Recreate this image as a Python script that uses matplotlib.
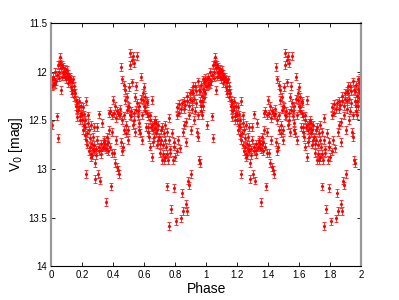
import numpy as np
import matplotlib
matplotlib.use("Agg")
import matplotlib.pyplot as plt

# Curva de luz plegada en fase (un ciclo, se repite de 1 a 2)
fase = [
    0.005, 0.009, 0.012, 0.015, 0.022, 0.026, 0.030, 0.037, 0.040, 0.043,
    0.046, 0.050, 0.055, 0.058, 0.062, 0.066, 0.070, 0.075, 0.080, 0.085,
    0.090, 0.095, 0.100,
    0.104, 0.108, 0.112, 0.116, 0.120, 0.124, 0.128, 0.132, 0.136, 0.140,
    0.145, 0.150, 0.155, 0.160, 0.165, 0.170, 0.175, 0.180, 0.185, 0.190,
    0.195, 0.200,
    0.205, 0.210, 0.213, 0.217, 0.220, 0.223, 0.226, 0.228, 0.232, 0.236,
    0.240, 0.245, 0.250, 0.255, 0.258, 0.262, 0.266, 0.270, 0.274, 0.278,
    0.282, 0.286, 0.290, 0.294, 0.298,
    0.302, 0.306, 0.310, 0.315, 0.320, 0.325, 0.330, 0.335, 0.340, 0.345,
    0.350, 0.355, 0.360, 0.365, 0.370, 0.375, 0.380, 0.385, 0.390, 0.395,
    0.400,
    0.404, 0.408, 0.412, 0.416, 0.420, 0.424, 0.428, 0.432, 0.436, 0.440,
    0.444, 0.448, 0.452, 0.456, 0.460, 0.464, 0.468, 0.472, 0.476, 0.480,
    0.484, 0.488, 0.492, 0.496, 0.500,
    0.504, 0.508, 0.512, 0.516, 0.520, 0.524, 0.528, 0.532, 0.536, 0.540,
    0.544, 0.548, 0.552, 0.556, 0.560, 0.565, 0.570, 0.575, 0.580, 0.585,
    0.590, 0.595,
    0.600, 0.604, 0.608, 0.612, 0.616, 0.620, 0.624, 0.628, 0.632, 0.636,
    0.640, 0.645, 0.650, 0.654, 0.658, 0.662, 0.666, 0.670, 0.675, 0.680,
    0.685, 0.690, 0.695,
    0.700, 0.705, 0.710, 0.714, 0.718, 0.722, 0.726, 0.730, 0.734, 0.738,
    0.742, 0.747, 0.750, 0.754, 0.758, 0.762, 0.766, 0.775, 0.780, 0.785,
    0.792, 0.796,
    0.800, 0.805, 0.810, 0.815, 0.820, 0.825, 0.830, 0.835, 0.840, 0.844,
    0.848, 0.850, 0.855, 0.860, 0.865, 0.870, 0.873, 0.876, 0.880, 0.883,
    0.887, 0.891, 0.895, 0.900,
    0.902, 0.906, 0.910, 0.915, 0.920, 0.925, 0.930, 0.935, 0.940, 0.945,
    0.948, 0.952, 0.956, 0.960, 0.962, 0.965, 0.968, 0.971, 0.974, 0.977,
    0.980, 0.983, 0.986, 0.989, 0.992, 0.995, 0.998,
    # segunda lectura, puntos del relleno
    0.003, 0.020, 0.028, 0.048, 0.060, 0.072, 0.082, 0.092, 0.098,
    0.110, 0.125, 0.138, 0.148, 0.158, 0.168, 0.178, 0.188, 0.198,
    0.208, 0.218, 0.235, 0.243, 0.252, 0.260, 0.268, 0.280, 0.292,
    0.312, 0.322, 0.332, 0.342, 0.352, 0.362, 0.372, 0.382, 0.392,
    0.410, 0.430, 0.445, 0.455, 0.470, 0.485, 0.495, 0.498,
    0.510, 0.518, 0.526, 0.538, 0.550, 0.558, 0.568, 0.578, 0.588, 0.598,
    0.606, 0.618, 0.626, 0.638, 0.648, 0.660, 0.672, 0.682, 0.692,
    0.708, 0.720, 0.735, 0.745, 0.760, 0.770, 0.790,
    0.812, 0.828, 0.845, 0.858, 0.868, 0.878, 0.890, 0.898,
    0.908, 0.918, 0.928, 0.938, 0.950, 0.958, 0.966, 0.975, 0.985, 0.993,
]

magnitud = [
    12.08, 12.55, 12.14, 12.05, 12.12, 12.00, 12.10, 12.46, 12.03, 12.68,
    11.93, 12.06, 11.90, 11.85, 11.96, 12.19, 11.93, 12.00, 11.95, 12.02,
    11.97, 12.00, 12.04,
    11.98, 12.08, 12.02, 12.05, 12.07, 12.10, 12.16, 12.11, 12.19, 12.08,
    12.19, 12.26, 12.22, 12.29, 12.47, 12.32, 12.39, 12.36, 12.46, 12.43,
    12.35, 12.50,
    12.36, 12.44, 12.55, 12.50, 12.57, 12.30, 12.70, 13.05, 12.63, 12.53,
    12.45, 12.82, 12.77, 12.88, 12.55, 12.74, 12.86, 12.67, 12.57, 12.82,
    12.94, 13.10, 12.86, 12.57, 12.70,
    13.05, 12.77, 12.44, 13.12, 12.81, 12.74, 12.53, 12.77, 12.70, 12.78,
    12.74, 13.34, 12.67, 12.72, 12.82, 12.43, 12.77, 13.18, 12.84, 12.62,
    12.29,
    12.84, 12.43, 12.94, 12.70, 12.48, 12.98, 12.40, 13.01, 12.45, 13.05,
    12.44, 11.95, 12.72, 12.08, 12.82, 12.77, 12.14, 12.60, 12.29, 12.19,
    12.63, 12.39, 12.26, 12.70, 12.16,
    12.36, 11.93, 11.81, 12.46, 11.88, 12.11, 11.84, 12.50, 11.91, 12.26,
    12.62, 12.39, 11.84, 12.32, 12.46, 12.53, 12.60, 12.63, 12.05, 12.70,
    12.22, 12.29,
    12.16, 12.26, 12.36, 12.57, 12.43, 12.32, 12.57, 12.46, 12.67, 12.50,
    12.77, 12.57, 12.88, 12.29, 12.60, 12.53, 12.67, 12.50, 12.63, 12.53,
    12.60, 12.70, 12.67,
    12.84, 12.74, 12.60, 12.91, 12.57, 12.75, 12.91, 12.63, 12.88, 12.55,
    12.77, 13.18, 12.62, 12.91, 12.48, 13.59, 12.84, 13.41, 12.63, 12.91,
    13.20, 12.77,
    12.88, 13.54, 12.82, 12.36, 12.70, 12.33, 12.79, 13.51, 12.38, 13.25,
    12.62, 13.43, 12.30, 12.55, 12.34, 13.36, 12.72, 13.43, 12.25, 13.12,
    12.45, 13.17, 12.28, 12.60,
    13.05, 12.20, 12.38, 12.22, 12.50, 12.28, 12.15, 12.32, 12.62, 12.10,
    12.67, 12.19, 12.91, 12.30, 12.94, 12.14, 12.40, 12.25, 12.45, 12.18,
    12.35, 12.08, 12.27, 12.12, 12.22, 12.06, 12.15,
    # segunda lectura
    12.15, 12.08, 12.13, 12.00, 11.92, 12.05, 12.00, 12.05, 12.08,
    12.12, 12.05, 12.22, 12.15, 12.35, 12.40, 12.30, 12.50, 12.45,
    12.60, 12.65, 12.75, 12.60, 12.68, 12.85, 12.80, 12.75, 12.80,
    12.82, 12.85, 12.78, 12.72, 12.80, 12.74, 12.60, 12.40, 12.45,
    12.35, 12.42, 12.38, 12.50, 12.45, 12.55, 12.35, 12.60,
    12.45, 12.40, 12.55, 12.42, 12.15, 12.40, 12.35, 12.28, 12.45, 12.35,
    12.40, 12.30, 12.62, 12.45, 12.55, 12.72, 12.58, 12.75, 12.55,
    12.70, 12.85, 12.70, 12.85, 12.70, 12.80, 12.72,
    12.45, 12.42, 12.32, 12.38, 12.52, 12.30, 12.35, 12.22,
    12.30, 12.15, 12.40, 12.20, 12.45, 12.20, 12.35, 12.30, 12.20, 12.10,
]

error = 0.04

# Dos ciclos para ver mejor la curva
x = np.concatenate([fase, np.array(fase) + 1])
y = np.concatenate([magnitud, magnitud])

plt.rcParams['font.family'] = ['Liberation Sans', 'DejaVu Sans']

fig = plt.figure(figsize=(3.99, 3.0), dpi=100)
ax = fig.add_axes([0.128, 0.113, 0.777, 0.81])

ax.errorbar(x, y, yerr=error, fmt='.', color='red', ecolor='#ff3030',
            markersize=2.5, elinewidth=0.7, capsize=1.5, capthick=0.7)

ax.set_xlim(0, 2)
ax.set_ylim(14, 11.5)
ax.set_xticks(np.arange(0, 2.01, 0.2))
ax.set_xticklabels(['0', '0.2', '0.4', '0.6', '0.8', '1', '1.2', '1.4', '1.6', '1.8', '2'])
ax.set_yticks([11.5, 12, 12.5, 13, 13.5, 14])
ax.set_yticklabels(['11.5', '12', '12.5', '13', '13.5', '14'])
ax.tick_params(direction='in', top=True, right=True, length=3, width=0.6,
               labelsize=7, pad=3)

ax.set_xlabel('Phase', fontsize=10, labelpad=1)
ax.set_ylabel('V$_0$ [mag]', fontsize=10, labelpad=2)

for lado in ['top', 'bottom']:
    ax.spines[lado].set_linewidth(0.8)
for lado in ['left', 'right']:
    ax.spines[lado].set_color('#999999')
    ax.spines[lado].set_linewidth(1.6)

fig.savefig('out.png', dpi=100)
